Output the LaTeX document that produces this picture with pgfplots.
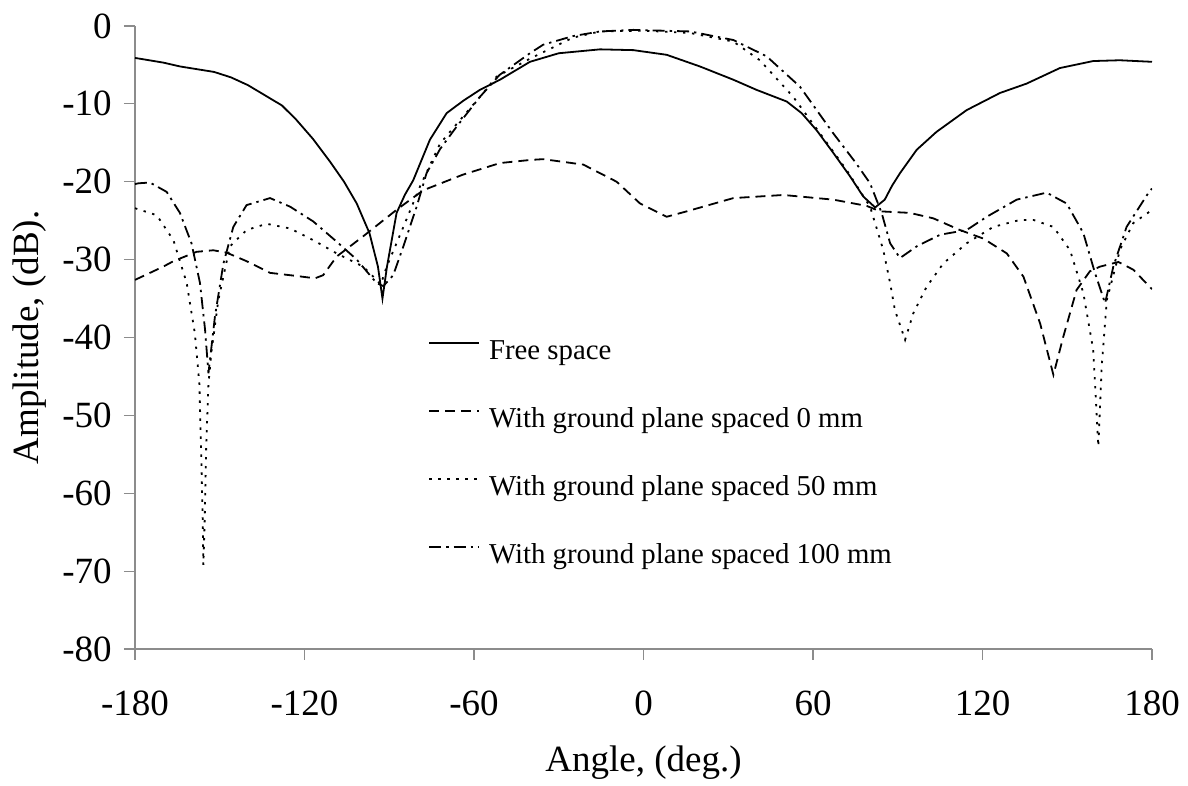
\documentclass[border=0pt]{standalone}
\usepackage{fontspec}
\setmainfont{Liberation Serif}
\usepackage{pgfplots}
\pgfplotsset{compat=1.18}
\begin{document}
\begin{tikzpicture}
\begin{axis}[
  at={(0,0)}, anchor=south west,
  scale only axis, width=508.5pt, height=311.5pt,
  xmin=-180, xmax=180, ymin=-80, ymax=0,
  xtick={-180,-120,-60,0,60,120,180},
  xticklabels={-180,-120,-60,0,60,120,180},
  ytick={-80,-70,-60,-50,-40,-30,-20,-10,0},
  yticklabels={-80,-70,-60,-50,-40,-30,-20,-10,0},
  axis lines*=left,
  axis line style={black!45, line width=0.6pt, -},
  tick style={black!45, line width=0.6pt},
  tick align=outside,
  major tick length=5.5pt,
  ticklabel style={font=\fontsize{18.5}{22}\selectfont},
  xticklabel style={inner sep=0pt, anchor=north, yshift=-15pt},
  yticklabel style={inner sep=0pt, anchor=east, xshift=-6pt},
  xlabel={Angle, (deg.)},
  ylabel={Amplitude, (dB).},
  label style={font=\fontsize{18.5}{22}\selectfont},
  xlabel style={at={(axis description cs:0.5,-0.183)}, anchor=center},
  ylabel style={at={(axis description cs:-0.1032,0.5)}, anchor=center},
  legend style={at={(axis description cs:0.288,0.4976)}, anchor=north west,
    draw=none, fill=none, inner sep=0pt, row sep=21pt, column sep=4.5pt,
    font=\fontsize{14.4}{17}\selectfont,
    nodes={inner sep=0pt, text height=10pt, text depth=3pt}},
  legend cell align=left,
  legend image code/.code={\draw[#1] (0pt,4.5pt) -- (25pt,4.5pt);},
  every axis plot/.append style={line width=0.9pt, black},
]
% Free space
\addplot[solid] coordinates {
(-180,-4.1) (-170,-4.7) (-164,-5.2) (-152,-5.9) (-146,-6.6) (-140,-7.6) (-134,-8.9)
(-128,-10.2) (-123,-12.0) (-117,-14.5) (-111,-17.4) (-106,-20.0) (-101.5,-22.8)
(-97,-26.6) (-94,-30.9) (-92.4,-35.0) (-90.8,-30.9) (-87.4,-24.0) (-84.5,-21.7)
(-81.5,-19.8) (-75.6,-14.6) (-69.7,-11.2) (-63.8,-9.6) (-57.9,-8.2) (-50.8,-6.9)
(-40.2,-4.6) (-30,-3.5) (-15.4,-3.0) (-3.6,-3.1) (8.2,-3.7) (20,-5.2) (31.8,-6.9)
(40,-8.2) (50.7,-9.7) (56,-11.2) (61.3,-13.4) (67,-16.2) (73.1,-19.3) (77.8,-21.9)
(82,-23.3) (85.4,-22.3) (88,-20.5) (90.8,-18.9) (96.7,-15.9) (103.7,-13.6)
(114.4,-10.8) (126.2,-8.6) (135.6,-7.4) (147.4,-5.4) (159.2,-4.5) (168.6,-4.4) (180,-4.6)
};
\addlegendentry{Free space}
% 0 mm
\addplot[dash pattern=on 5pt off 3pt] coordinates {
(-180,-32.6) (-178.8,-32.4) (-170,-30.9) (-166.4,-30.2) (-158.2,-29.0) (-152.3,-28.8)
(-147.6,-29.1) (-140.5,-30.2) (-132.2,-31.7) (-122.8,-32.1) (-116.3,-32.4)
(-113.4,-32.0) (-108.6,-29.6) (-99.2,-27.0) (-87.4,-23.6) (-78,-21.1) (-64,-19.1)
(-50.8,-17.6) (-40,-17.2) (-35.5,-17.1) (-21.3,-17.8) (-9.5,-20.0) (-1.2,-22.8)
(8.2,-24.5) (15.3,-23.8) (31.8,-22.1) (49.5,-21.7) (67.2,-22.3) (79,-23.1)
(83.7,-23.8) (94.3,-24.0) (102.6,-24.7) (112,-26.2) (120.3,-27.3) (128.6,-29.2)
(134.5,-32.2) (140.4,-38.2) (145.1,-44.8) (148.6,-39.9) (153.3,-33.9) (158,-31.5)
(161.6,-30.9) (168.1,-30.3) (173.4,-31.3) (180,-33.8)
};
\addlegendentry{With ground plane spaced 0 mm}
% 50 mm
\addplot[dash pattern=on 1.2pt off 3.3pt] coordinates {
(-180,-23.4) (-172.3,-24.3) (-166.4,-27.5) (-161.7,-33.0) (-158.8,-39.5)
(-157.2,-46) (-156.5,-56) (-156,-64) (-155.8,-69.2) (-155.3,-63) (-154.8,-54)
(-154,-46) (-153,-42) (-150.5,-35.2) (-146.4,-28.3) (-140.5,-26.2) (-133.4,-25.4)
(-125.1,-26.0) (-116.9,-27.5) (-108.6,-29.2) (-99.2,-30.9) (-94.5,-32.6) (-93,-33.2)
(-90.9,-30.9) (-85,-25.8) (-79.1,-20.6) (-72,-15.1) (-65,-12.1) (-57.9,-9.1)
(-52,-6.5) (-40.2,-4.2) (-25,-1.5) (-15.4,-0.7) (0,-0.6) (16.5,-0.9) (31.8,-2.0)
(41.2,-4.4) (53,-9.1) (62.5,-13.8) (71.9,-18.5) (80.2,-23.2) (84.9,-28.8)
(87.3,-33.0) (89,-36.5) (92.6,-40.3) (95.5,-36.9) (100.2,-33.5) (106.1,-30.5)
(114.4,-27.9) (123.8,-25.8) (133.3,-24.9) (138,-24.9) (145.1,-25.8) (151,-28.8)
(155.7,-34.3) (159.2,-41.6) (161,-54.0) (162.2,-43.7) (164,-35.2) (168.7,-28.7)
(173.4,-25.3) (179.3,-23.8) (180,-23.7)
};
\addlegendentry{With ground plane spaced 50 mm}
% 100 mm
\addplot[dash pattern=on 6pt off 2.5pt on 1.2pt off 2.5pt] coordinates {
(-180,-20.3) (-178.8,-20.2) (-174.7,-20.1) (-168.8,-21.3) (-164.1,-24.0) (-160,-27.9)
(-157,-33.0) (-155.2,-39.0) (-154,-44.6) (-151.7,-37.3) (-148.7,-30.5) (-145.2,-25.8)
(-140.5,-23.0) (-132.2,-22.1) (-125.1,-23.2) (-116.9,-25.1) (-108.6,-27.7)
(-101.5,-30.0) (-94.5,-33.0) (-92.1,-33.4) (-88.6,-32.0) (-85,-28.3) (-80.3,-23.2)
(-76.8,-18.9) (-72,-15.8) (-66.1,-12.9) (-57.9,-9.1) (-51,-6.3) (-40.2,-3.5)
(-35.5,-2.4) (-25,-1.3) (-15.4,-0.7) (-3.6,-0.5) (16.5,-0.7) (31.8,-1.8) (43.6,-3.9)
(55.4,-7.8) (67.2,-13.8) (75,-17.5) (80.2,-20.2) (84.3,-24.0) (87.3,-27.9)
(90.8,-29.8) (96.7,-28.3) (105,-26.8) (114.4,-26.2) (121.5,-24.5) (132.1,-22.3)
(142.7,-21.4) (149.8,-22.8) (155.7,-26.6) (159.8,-31.7) (163.4,-35.6) (166.3,-30.9)
(171,-25.8) (179.3,-21.1) (180,-20.9)
};
\addlegendentry{With ground plane spaced 100 mm}
\end{axis}
\pgfresetboundingbox
\path[use as bounding box] (-67.5pt,-68.5pt) rectangle (526.5pt,324.5pt);
\end{tikzpicture}
\end{document}
